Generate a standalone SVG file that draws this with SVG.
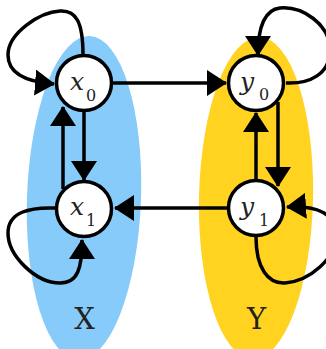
<svg xmlns="http://www.w3.org/2000/svg" width="326" height="349" viewBox="0 0 326 349">
<style>
.grp{stroke:none}
.node circle{fill:#fff;stroke:#000;stroke-width:3.5}
.var{font-family:"DejaVu Serif",serif;font-style:italic;font-size:25px;fill:#222}
.sub{font-family:"DejaVu Serif",serif;font-size:16px;fill:#222}
.lbl{font-family:"DejaVu Serif",serif;font-size:29px;fill:#222;text-anchor:middle}
.edge{fill:none;stroke:#000;stroke-width:3.5;marker-end:url(#arr)}
</style>
<defs>
<marker id="arr" markerUnits="userSpaceOnUse" viewBox="0 0 20 26" markerWidth="20" markerHeight="26" refX="19" refY="13" orient="auto">
<path d="M0,0 L20,13 L0,26 z" fill="#000"/>
</marker>
</defs>
<g id="setX">
<ellipse class="grp" cx="84" cy="198" rx="57" ry="162" fill="#86CBFA" transform="rotate(2 84 198)"/>
<text class="lbl" x="84.5" y="329">X</text>
</g>
<g id="setY">
<ellipse class="grp" cx="256" cy="198" rx="57" ry="161" fill="#FFD320" transform="rotate(1.2 256 198)"/>
<text class="lbl" x="256.5" y="329">Y</text>
</g>
<g id="connectors">
<path class="edge" d="M83 55 C83 22 76 10 60 11 C40 12 8 33 8 55 C8 74 28 82 54 84"/>
<path class="edge" d="M55 208 C30 207 8 212 8 233 C8 256 36 283 60 283 C78 283 82 268 82 240"/>
<path class="edge" d="M286 83 C310 84 330 74 330 50 C330 24 302 6 280 8 C263 10 258 30 258 55"/>
<path class="edge" d="M256 237 C256 268 268 284 285 283 C310 281 336 258 336 236 C336 214 318 205 287 207"/>
<path class="edge" d="M113 83 L226 83"/>
<path class="edge" d="M227 208 L115 208"/>
<path class="edge" d="M63 189 L63 107"/>
<path class="edge" d="M84 112 L84 180"/>
<path class="edge" d="M256 180 L256 113"/>
<path class="edge" d="M278 102 L278 186"/>
</g>
<g id="x0" class="node">
<circle cx="84" cy="83" r="27.5"/>
<text class="var" x="70" y="90">x</text><text class="sub" x="86" y="101">0</text>
</g>
<g id="x1" class="node">
<circle cx="84" cy="209" r="27.5"/>
<text class="var" x="70" y="215">x</text><text class="sub" x="86" y="226">1</text>
</g>
<g id="y0" class="node">
<circle cx="256" cy="83" r="27.5"/>
<text class="var" x="240" y="90">y</text><text class="sub" x="259" y="100">0</text>
</g>
<g id="y1" class="node">
<circle cx="256" cy="208" r="27.5"/>
<text class="var" x="240" y="215">y</text><text class="sub" x="259" y="226">1</text>
</g>
</svg>
